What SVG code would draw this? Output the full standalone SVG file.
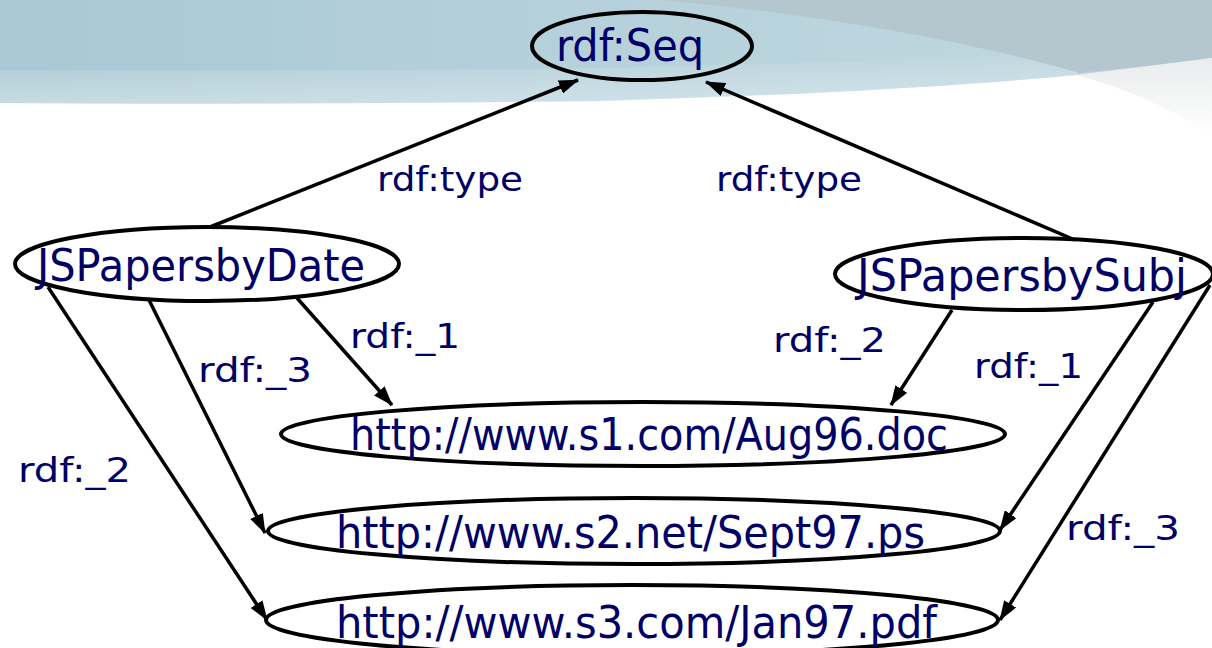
<svg xmlns="http://www.w3.org/2000/svg" width="1212" height="648" viewBox="0 0 1212 648">
<defs>
<linearGradient id="bg" x1="0" y1="0" x2="1" y2="0">
<stop offset="0" stop-color="#a8c8d5"/>
<stop offset="0.5" stop-color="#b6d1db"/>
<stop offset="1" stop-color="#c2d8e0"/>
</linearGradient>
<linearGradient id="fade" x1="0" y1="0" x2="0" y2="1">
<stop offset="0" stop-color="#ffffff" stop-opacity="0"/>
<stop offset="1" stop-color="#ffffff" stop-opacity="0.35"/>
</linearGradient>
<linearGradient id="gray" x1="0" y1="0" x2="0" y2="1">
<stop offset="0" stop-color="#e9ebec"/>
<stop offset="1" stop-color="#ffffff"/>
</linearGradient>
<marker id="ah" viewBox="0 0 20 14" refX="19" refY="7" markerWidth="20" markerHeight="14" markerUnits="userSpaceOnUse" orient="auto">
<path d="M0,0 L20,7 L0,14 Z" fill="#000"/>
</marker>
<style>
.node{fill:none;stroke:#000;stroke-width:4}
.nt{font-family:"DejaVu Sans","Noto Sans",sans-serif;font-size:44px;fill:#000066}
.lb{font-family:"DejaVu Sans","Noto Sans",sans-serif;font-size:33px;fill:#000066}
.edge{stroke:#000;stroke-width:3.5;fill:none;marker-end:url(#ah)}
</style>
</defs>
<rect width="1212" height="648" fill="#fff"/>
<g id="background">
<path d="M0,0 H1212 V58 Q1140,68 1077,75 Q900,92 600,101 Q300,105 0,103 Z" fill="url(#bg)"/>
<path d="M0,70 Q300,72 600,68 Q900,62 1077,50 V75 Q900,92 600,101 Q300,105 0,103 Z" fill="url(#fade)"/>
<path d="M660,0 Q900,22 1080,73 Q1150,66 1212,58 V0 Z" fill="#b5c7ce"/>
<path d="M1077,75 Q1150,66 1212,58 V135 Q1150,95 1077,75 Z" fill="url(#gray)"/>
</g>
<g id="connectors">
<line class="edge" x1="210" y1="227" x2="578" y2="80"/>
<line class="edge" x1="1075" y1="240" x2="706" y2="82"/>
<line class="edge" x1="297" y1="298" x2="392" y2="405"/>
<line class="edge" x1="148" y1="298" x2="265" y2="533"/>
<line class="edge" x1="48" y1="287" x2="267" y2="620"/>
<line class="edge" x1="952" y1="310" x2="891" y2="405"/>
<line class="edge" x1="1153" y1="302" x2="1000" y2="530"/>
<line class="edge" x1="1210" y1="285" x2="1000" y2="620"/>
<text class="lb" x="377" y="191" textLength="146" lengthAdjust="spacingAndGlyphs">rdf:type</text>
<text class="lb" x="716" y="191" textLength="146" lengthAdjust="spacingAndGlyphs">rdf:type</text>
<text class="lb" x="350" y="348" textLength="110" lengthAdjust="spacingAndGlyphs">rdf:_1</text>
<text class="lb" x="198" y="382" textLength="114" lengthAdjust="spacingAndGlyphs">rdf:_3</text>
<text class="lb" x="18" y="482" textLength="113" lengthAdjust="spacingAndGlyphs">rdf:_2</text>
<text class="lb" x="773" y="352" textLength="113" lengthAdjust="spacingAndGlyphs">rdf:_2</text>
<text class="lb" x="974" y="378" textLength="109" lengthAdjust="spacingAndGlyphs">rdf:_1</text>
<text class="lb" x="1066" y="540" textLength="114" lengthAdjust="spacingAndGlyphs">rdf:_3</text>
</g>
<g id="rdfSeq">
<ellipse class="node" cx="642" cy="46" rx="110" ry="34"/>
<text class="nt" x="556" y="61" textLength="148" lengthAdjust="spacingAndGlyphs">rdf:Seq</text>
</g>
<g id="JSPapersbyDate">
<ellipse class="node" cx="207" cy="264" rx="192" ry="37"/>
<text class="nt" x="37" y="281" textLength="328" lengthAdjust="spacingAndGlyphs">JSPapersbyDate</text>
</g>
<g id="JSPapersbySubj">
<ellipse class="node" cx="1024" cy="274" rx="189" ry="36"/>
<text class="nt" x="857" y="291" textLength="330" lengthAdjust="spacingAndGlyphs">JSPapersbySubj</text>
</g>
<g id="Aug96">
<ellipse class="node" cx="643" cy="434" rx="362" ry="32"/>
<text class="nt" x="350" y="450" textLength="598" lengthAdjust="spacingAndGlyphs">http://www.s1.com/Aug96.doc</text>
</g>
<g id="Sept97">
<ellipse class="node" cx="634" cy="531" rx="366" ry="33"/>
<text class="nt" x="336" y="548" textLength="589" lengthAdjust="spacingAndGlyphs">http://www.s2.net/Sept97.ps</text>
</g>
<g id="Jan97">
<ellipse class="node" cx="632" cy="620" rx="366" ry="35"/>
<text class="nt" x="336" y="638" textLength="601" lengthAdjust="spacingAndGlyphs">http://www.s3.com/Jan97.pdf</text>
</g>
</svg>
